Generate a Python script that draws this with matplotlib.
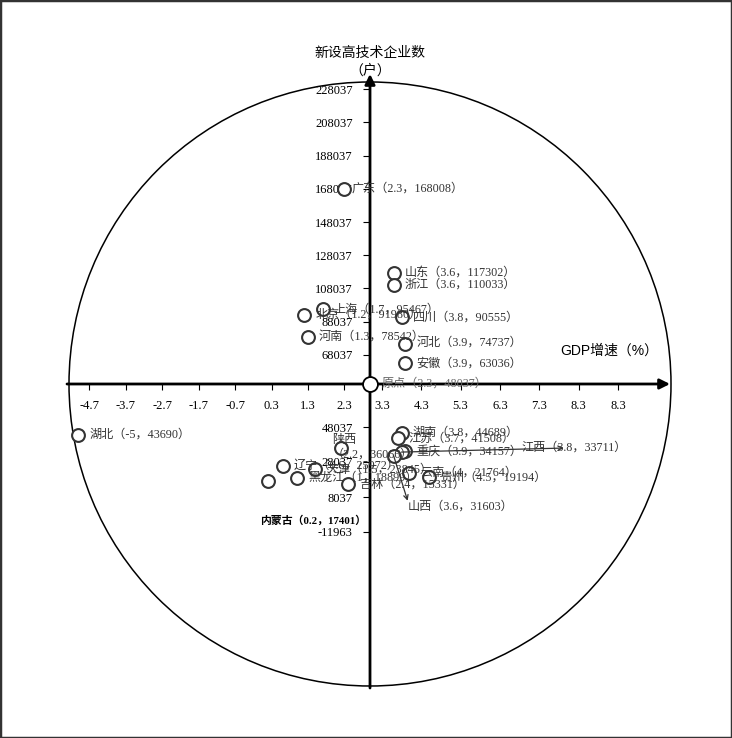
import numpy as np
import matplotlib.pyplot as plt
from matplotlib.patches import Ellipse, Rectangle

plt.rcParams['font.family'] = ['Liberation Serif', 'Noto Sans CJK SC']

# DATA (GDP growth %, number of new high-tech firms)
provinces = ['广东', '山东', '浙江', '上海', '北京', '四川', '河北', '河南', '安徽',
             '湖北', '湖南', '江苏', '陕西', '重庆', '江西', '山西', '辽宁', '天津',
             '云南', '贵州', '黑龙江', '内蒙古', '吉林']
gdp = [2.3, 3.6, 3.6, 1.7, 1.2, 3.8, 3.9, 1.3, 3.9,
       -5, 3.8, 3.7, 2.2, 3.9, 3.8, 3.6, 0.6, 1.5,
       4, 4.5, 1, 0.2, 2.4]
firms = [168008, 117302, 110033, 95467, 91980, 90555, 74737, 78542, 63036,
         43690, 44689, 41508, 36066, 34157, 33711, 31603, 25972, 23845,
         21764, 19194, 18899, 17401, 15331]

origin_x = 3.0
origin_y = 50450
origin_text = '原点（2.3，48037）'

xtick_vals = [-4.7, -3.7, -2.7, -1.7, -0.7, 0.3, 1.3, 2.3,
              3.3, 4.3, 5.3, 6.3, 7.3, 8.3, 9.3]
xtick_labels = ['-4.7', '-3.7', '-2.7', '-1.7', '-0.7', '0.3', '1.3', '2.3',
                '3.3', '4.3', '5.3', '6.3', '7.3', '8.3', '8.3']
ytick_vals = [228037, 208037, 188037, 168037, 148037, 128037, 108037, 88037, 68037,
              48037, 28037, 8037, -11963]
ytick_labels = [str(v) for v in ytick_vals]

#SCALES (the drawing uses a different step on each side of the axes)
KXL, KXR = 36.45, 39.4          # px per % left / right of the vertical axis
KYU, KYL = 1.66e-3, 1.75e-3     # px per firm above / below the horizontal axis
Y_LOW_REF, Y_GAP = 48037, 43.0  # lower half starts 43 px under the axis at 48037


def fx(x):
    x = np.asarray(x, dtype=float)
    return np.where(x < origin_x, (x - origin_x) * KXL, (x - origin_x) * KXR)


def fx_inv(t):
    t = np.asarray(t, dtype=float)
    return np.where(t < 0, origin_x + t / KXL, origin_x + t / KXR)


def fy(y):
    y = np.asarray(y, dtype=float)
    return np.where(y >= origin_y, (y - origin_y) * KYU, (y - Y_LOW_REF) * KYL - Y_GAP)


def fy_inv(t):
    t = np.asarray(t, dtype=float)
    lo = Y_LOW_REF + (t + Y_GAP) / KYL
    return np.where(t >= 0, origin_y + t / KYU, np.minimum(lo, origin_y))


#FIGURE
W, H = 732, 738
CX, CY = 370, 384  # pixel position of the axes crossing
fig = plt.figure(figsize=(W / 100, H / 100), dpi=100)
ax = fig.add_axes([0, 0, 1, 1])
ax.set_xscale('function', functions=(fx, fx_inv))
ax.set_yscale('function', functions=(fy, fy_inv))
ax.set_xlim(float(fx_inv(-CX)), float(fx_inv(W - CX)))
ax.set_ylim(float(fy_inv(CY - H)), float(fy_inv(CY)))

for s in ['top', 'right']:
    ax.spines[s].set_visible(False)
ax.spines['bottom'].set_position(('data', origin_y))
ax.spines['left'].set_position(('data', origin_x))
ax.spines['bottom'].set_color('none')
ax.spines['left'].set_color('none')

ax.set_xticks(xtick_vals, xtick_labels)
ax.set_yticks(ytick_vals, ytick_labels)
ax.tick_params(axis='x', direction='out', length=4, width=0.8, pad=7.5, labelsize=9)
ax.tick_params(axis='y', direction='out', length=5, width=0.8, pad=7.5, labelsize=9)

# circle round the chart
ax.add_patch(Ellipse((CX / W, 1 - CY / H), 602 / W, 604 / H, transform=ax.transAxes,
                     fill=False, ec='black', lw=1.1, zorder=1))

# axis arrows
yax = ax.get_yaxis_transform()
xax = ax.get_xaxis_transform()
arrow = dict(arrowstyle='-|>', color='black', lw=2, mutation_scale=15, shrinkA=0, shrinkB=0)
ax.annotate('', xy=(670 / W, origin_y), xytext=(67 / W, origin_y),
            xycoords=yax, textcoords=yax, arrowprops=arrow, zorder=2)
ax.annotate('', xy=(origin_x, 1 - 74 / H), xytext=(origin_x, 1 - 688 / H),
            xycoords=xax, textcoords=xax, arrowprops=arrow, zorder=2)

ax.text(origin_x, 1 - 62 / H, '新设高技术企业数\n（户）', transform=xax, ha='center', va='center',
        fontsize=10, family=['Noto Sans CJK SC'], linespacing=1.35)
ax.text(560 / W, 1 - 351 / H, 'GDP增速（%）', transform=ax.transAxes, ha='left', va='center',
        fontsize=10, family=['Liberation Sans', 'Noto Sans CJK SC'])

#POINTS
ax.scatter(gdp, firms, s=85, facecolor='white', edgecolor='#333333', linewidth=1.5, zorder=4)
ax.scatter([origin_x], [origin_y], s=115, facecolor='white', edgecolor='black', linewidth=1.3, zorder=6)

# label offsets in pixels (right, down); default sits just right of the marker
offsets = {'广东': (7, 0), '江西': (120, -4), '山西': (14, 51), '内蒙古': (-8, 40),
           '陕西': (-9, -1)}
for name, g, f in zip(provinces, gdp, firms):
    txt = f'{name}（{g:g}，{f}）'
    if name == '陕西':
        txt = f'{name}\n（{g:g}，{f}）'
    dx, dy = offsets.get(name, (11, 0))
    kw = dict(fontsize=8.7, color='#333333', va='center', ha='left', linespacing=1.3)
    if name == '内蒙古':
        kw.update(color='black', fontweight='bold', fontsize=7.8)
    if name == '江西':
        kw['arrowprops'] = dict(arrowstyle='<-', color='#333333', lw=0.9, mutation_scale=8,
                                relpos=(0.4, 0.5), patchA=None, shrinkA=0, shrinkB=0)
    if name == '山西':
        kw['arrowprops'] = dict(arrowstyle='<-', color='#333333', lw=0.9, mutation_scale=8,
                                relpos=(0.0, 1.0), patchA=None, shrinkA=0, shrinkB=0)
    ax.annotate(txt, (g, f), xytext=(dx * 0.72, -dy * 0.72), textcoords='offset points',
                zorder=5, **kw)

ax.annotate(origin_text, (origin_x, origin_y), xytext=(12 * 0.72, 0), textcoords='offset points',
            fontsize=8.7, color='#666666', va='center', ha='left', zorder=5)

# image border
fig.patches.append(Rectangle((0, 0), 1, 1, transform=fig.transFigure, fill=False,
                             ec='#333333', lw=2.5))

fig.savefig('out.png', dpi=100)
